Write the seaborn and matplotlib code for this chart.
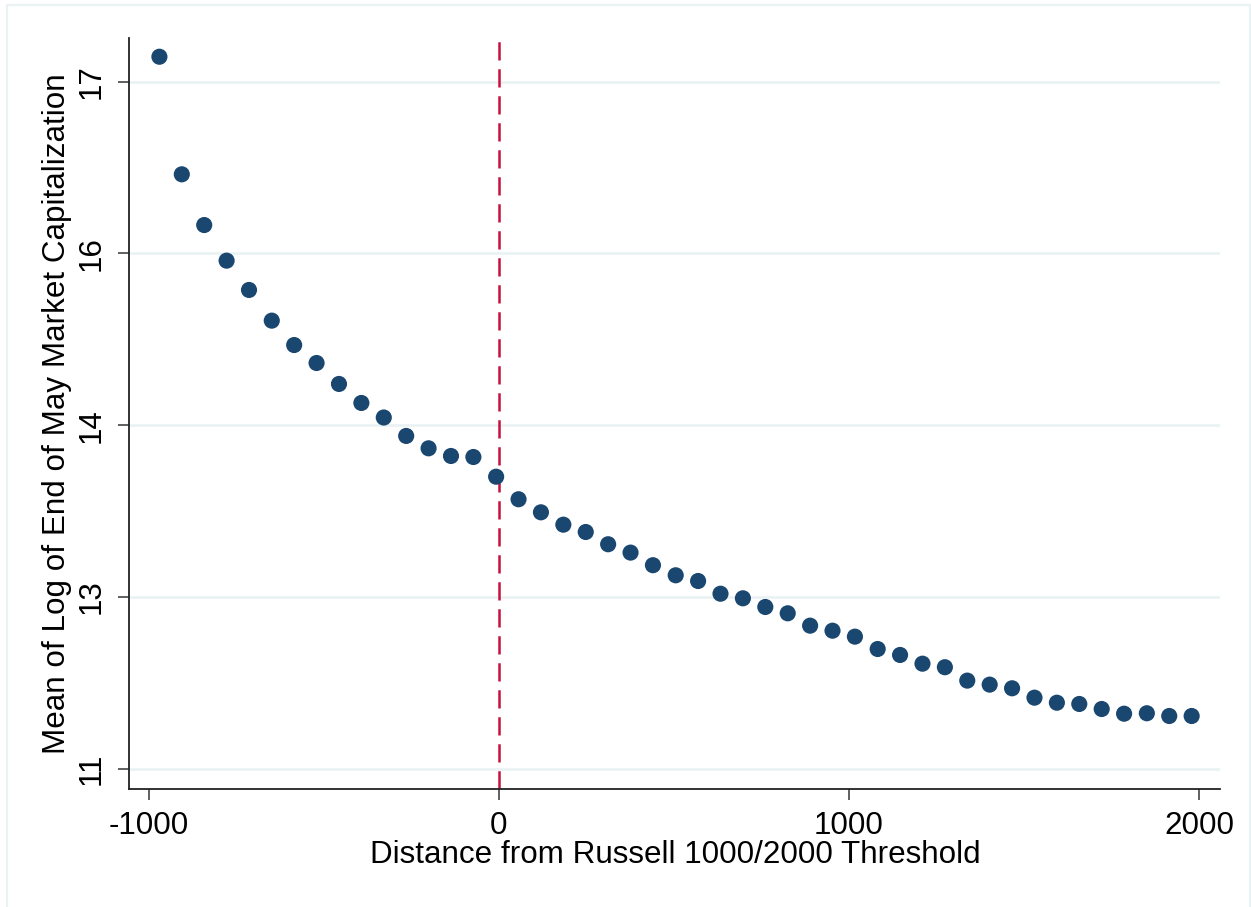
import matplotlib
matplotlib.use("Agg")
import matplotlib.pyplot as plt
from matplotlib.lines import Line2D
import pandas as pd
import seaborn as sns

# Binned means of log market cap by rank distance from the Russell cutoff
distance = [-970, -906, -842, -778, -714, -649, -585, -521, -457, -393,
            -329, -265, -201, -137, -73, -8, 56, 120, 184, 248,
            312, 376, 440, 505, 569, 633, 697, 761, 825, 889,
            953, 1017, 1082, 1146, 1210, 1274, 1338, 1402, 1466, 1530,
            1594, 1658, 1722, 1786, 1851, 1915, 1979]
log_mcap = [17.218, 16.191, 15.748, 15.437, 15.181, 14.913, 14.700, 14.543, 14.360, 14.194,
            14.067, 13.906, 13.798, 13.731, 13.722, 13.550, 13.353, 13.239, 13.131, 13.067,
            12.960, 12.887, 12.777, 12.689, 12.639, 12.528, 12.488, 12.412, 12.357, 12.249,
            12.205, 12.153, 12.045, 11.993, 11.917, 11.886, 11.769, 11.734, 11.702, 11.620,
            11.576, 11.565, 11.521, 11.480, 11.484, 11.460, 11.460]

x_ticks = [-1000, 0, 1000, 2000]
x_tick_labels = ["-1000", "0", "1000", "2000"]
y_ticks = [11, 12.5, 14, 15.5, 17]
y_tick_labels = ["11", "13", "14", "16", "17"]
threshold = 0

x_title = "Distance from Russell 1000/2000 Threshold"
y_title = "Mean of Log of End of May Market Capitalization"

sns.set_style("white")
plt.rcParams["font.family"] = ["Liberation Sans", "DejaVu Sans"]

W, H = 1251, 907
fig = plt.figure(figsize=(W / 100, H / 100), dpi=100)
fig.patch.set_facecolor("white")

# plot region in pixels
left, right, top, bottom = 129.3, 1220.0, 38.3, 788.7
ax = fig.add_axes([left / W, 1 - bottom / H, (right - left) / W, (bottom - top) / H])

grid_col = "#eaf2f3"
for yt in y_ticks:
    ax.axhline(yt, color=grid_col, lw=1.9, zorder=0)

df = pd.DataFrame({"distance": distance, "log_mcap": log_mcap})
sns.scatterplot(data=df, x="distance", y="log_mcap", ax=ax, s=135,
                color="#1a476f", edgecolor="none", linewidth=0, zorder=3)

ax.axvline(threshold, color="#c8103e", lw=1.8, dashes=(7.3, 3.5), zorder=2)

ax.set_xlim(-1056, 2060)
ax.set_ylim(10.825, 17.379)

ax.set_xticks(x_ticks)
ax.set_xticklabels(x_tick_labels)
ax.set_yticks(y_ticks)
ax.set_yticklabels(y_tick_labels, rotation=90, va="center")

fs = 22.6
ax.tick_params(axis="both", which="major", direction="out", length=8,
               width=1.2, color="#444444", labelsize=fs, labelcolor="black",
               left=True, bottom=True)
ax.tick_params(axis="x", pad=8)
ax.tick_params(axis="y", pad=8)

for side in ["top", "right"]:
    ax.spines[side].set_visible(False)
for side in ["left", "bottom"]:
    ax.spines[side].set_color("#222222")
    ax.spines[side].set_linewidth(1.3)

ax.set_xlabel(x_title, fontsize=fs, color="black")
ax.set_ylabel(y_title, fontsize=fs, color="black")
ax.xaxis.set_label_coords((675 - left) / (right - left), -(855 - bottom) / (bottom - top))
ax.xaxis.label.set_va("center")
ax.yaxis.set_label_coords(-(left - 57.5) / (right - left), 0.5)
ax.yaxis.label.set_va("center")

# faint outer frame of the graph region
frame_kw = dict(color=grid_col, lw=1.6, transform=fig.transFigure)
fig.add_artist(Line2D([6.5 / W, 6.5 / W], [0, 1 - 5 / H], **frame_kw))
fig.add_artist(Line2D([6.5 / W, 1249.5 / W], [1 - 5 / H, 1 - 5 / H], **frame_kw))
fig.add_artist(Line2D([1249.5 / W, 1249.5 / W], [0, 1 - 5 / H], **frame_kw))

fig.savefig("out.png", dpi=100, facecolor="white")
